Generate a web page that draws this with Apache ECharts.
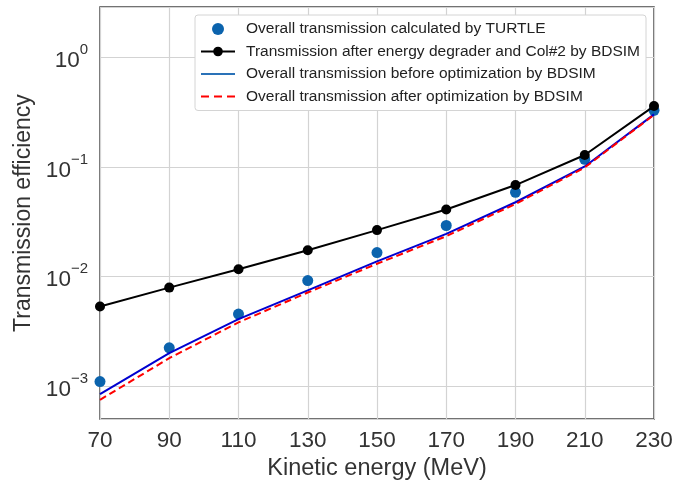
<!DOCTYPE html>
<html>
<head>
<meta charset="utf-8">
<script src="https://cdn.jsdelivr.net/npm/echarts@6/dist/echarts.min.js"></script>
<style>
  html, body { margin: 0; padding: 0; background: #fff; }
  #main { width: 699px; height: 486px; }
</style>
</head>
<body>
<div id="main"></div>
<script>
// kinetic energy (MeV)
var energy = [70, 90, 110, 130, 150, 170, 190, 210, 230];
// transmission values
var turtle = [1.10e-3, 2.24e-3, 4.55e-3, 9.2e-3, 0.0166, 0.0293, 0.0589, 0.118, 0.33];
var col2 = [5.33e-3, 7.94e-3, 0.0117, 0.0174, 0.0266, 0.041, 0.0686, 0.129, 0.361];
var beforeOpt = [8.46e-4, 2.0e-3, 4.09e-3, 7.5e-3, 0.0138, 0.0246, 0.0478, 0.1014, 0.303];
var afterOpt = [7.5e-4, 1.8e-3, 3.82e-3, 7.16e-3, 0.0131, 0.0234, 0.0461, 0.0993, 0.30];

var names = [
  'Overall transmission calculated by TURTLE',
  'Transmission after energy degrader and Col#2 by BDSIM',
  'Overall transmission before optimization by BDSIM',
  'Overall transmission after optimization by BDSIM'
];

function pairs(ys) {
  return energy.map(function (x, i) { return [x, ys[i]]; });
}

var chart = echarts.init(document.getElementById('main'));
var font = 'Liberation Sans, Arial, sans-serif';

// plain and dashed line icons for the legend
var solidIcon = 'path://M0,0H34V2H0Z';
var dashIcon = 'path://M0,0H8V2H0Z M13,0H21V2H13Z M26,0H34V2H26Z';

var option = {
  animation: false,
  textStyle: { fontFamily: font },
  grid: {
    left: 100, right: 45, top: 7, bottom: 65,
    show: true, borderColor: '#444', borderWidth: 1.5, backgroundColor: '#fff'
  },
  legend: {
    data: [
      { name: names[0] },
      { name: names[1] },
      { name: names[2], icon: solidIcon },
      { name: names[3], icon: dashIcon }
    ],
    orient: 'vertical',
    left: 195, top: 15,
    itemWidth: 34, itemHeight: 12, itemGap: 6.5,
    padding: [6, 6, 6, 5],
    backgroundColor: '#fff',
    borderColor: '#d4d4d4', borderWidth: 1, borderRadius: 3,
    textStyle: { fontSize: 15.5, lineHeight: 16, color: '#222', fontFamily: font, padding: [0, 0, 0, 6] }
  },
  xAxis: {
    type: 'value',
    min: 70, max: 230, interval: 20,
    name: 'Kinetic energy (MeV)',
    nameLocation: 'middle', nameGap: 35,
    nameTextStyle: { fontSize: 23.5, color: '#333' },
    axisLine: { show: false },
    axisTick: { show: false },
    axisLabel: { fontSize: 22.5, color: '#333', margin: 10 },
    splitLine: { lineStyle: { color: '#d3d3d3', width: 1.2 } }
  },
  yAxis: {
    type: 'log',
    min: 5e-4, max: 2.9,
    name: 'Transmission efficiency',
    nameLocation: 'middle', nameGap: 65,
    nameTextStyle: { fontSize: 23, color: '#333' },
    axisLine: { show: false },
    axisTick: { show: false },
    axisLabel: {
      margin: 12,
      formatter: function (v) {
        var l = Math.log10(v);
        var e = Math.round(l);
        if (Math.abs(l - e) > 1e-6) return '';
        return '{b|10}{s|' + (e < 0 ? '\u2212' + (-e) : e) + '}';
      },
      rich: {
        b: { fontSize: 22.5, color: '#333', verticalAlign: 'bottom', lineHeight: 30 },
        s: { fontSize: 15, color: '#333', verticalAlign: 'top', lineHeight: 30 }
      }
    },
    splitLine: { lineStyle: { color: '#d3d3d3', width: 1.2 } }
  },
  series: [
    {
      name: names[0], type: 'scatter', data: pairs(turtle),
      symbol: 'circle', symbolSize: 11, z: 3,
      itemStyle: { color: '#0b63ad', opacity: 1 }
    },
    {
      name: names[1], type: 'line', data: pairs(col2),
      symbol: 'circle', symbolSize: 10, z: 4,
      lineStyle: { color: '#000', width: 2 },
      itemStyle: { color: '#000' }
    },
    {
      name: names[2], type: 'line', data: pairs(beforeOpt),
      symbol: 'none', z: 5,
      lineStyle: { color: '#0000d0', width: 2 },
      itemStyle: { color: '#2a72b8' }
    },
    {
      name: names[3], type: 'line', data: pairs(afterOpt),
      symbol: 'none', z: 5,
      lineStyle: { color: '#ff0000', width: 2, type: [7, 4] },
      itemStyle: { color: '#ff0000' }
    }
  ]
};
chart.setOption(option);
</script>
</body>
</html>
